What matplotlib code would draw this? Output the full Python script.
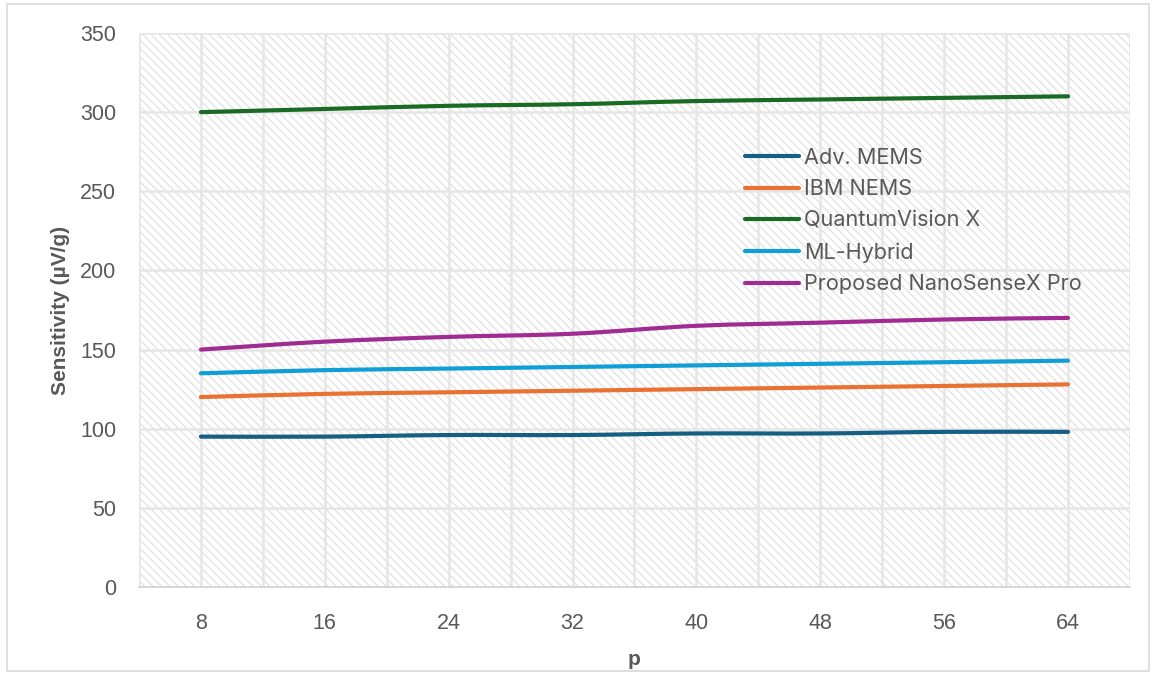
import matplotlib
matplotlib.use("Agg")
import matplotlib.pyplot as plt
from matplotlib.path import Path
from matplotlib.patches import PathPatch, Rectangle
from matplotlib.lines import Line2D
import numpy as np

# sensitivity vs. p for each sensor design
p_values = [8, 16, 24, 32, 40, 48, 56, 64]
adv_mems = [95, 95, 96, 96, 97, 97, 98, 98]
ibm_nems = [120, 122, 123, 124, 125, 126, 127, 128]
quantum_x = [300, 302, 304, 305, 307, 308, 309, 310]
ml_hybrid = [135, 137, 138, 139, 140, 141, 142, 143]
nanosense = [150, 155, 158, 160, 165, 167, 169, 170]

series = [
    ("Adv. MEMS", adv_mems, "#156082"),
    ("IBM NEMS", ibm_nems, "#E97132"),
    ("QuantumVision X", quantum_x, "#196B24"),
    ("ML-Hybrid", ml_hybrid, "#0F9ED5"),
    ("Proposed NanoSenseX Pro", nanosense, "#A02B93"),
]

TXT = "#595959"
GRID = "#e6e6e6"
LW = 3.0


def smooth_path(x, y):
    # catmull-rom style bezier through the points (like a "smoothed line")
    x = np.asarray(x, float)
    y = np.asarray(y, float)
    verts = [(x[0], y[0])]
    codes = [Path.MOVETO]
    n = len(x)
    for i in range(n - 1):
        x0, y0 = (x[i - 1], y[i - 1]) if i > 0 else (x[i], y[i])
        x3, y3 = (x[i + 2], y[i + 2]) if i + 2 < n else (x[i + 1], y[i + 1])
        c1 = (x[i] + (x[i + 1] - x0) / 6, y[i] + (y[i + 1] - y0) / 6)
        c2 = (x[i + 1] - (x3 - x[i]) / 6, y[i + 1] - (y3 - y[i]) / 6)
        verts += [c1, c2, (x[i + 1], y[i + 1])]
        codes += [Path.CURVE4] * 3
    return Path(verts, codes)


fig = plt.figure(figsize=(11.56, 6.75), dpi=100)
ax = fig.add_axes([0.1202, 0.1304, 0.8573, 0.8207])

idx = np.arange(1, len(p_values) + 1)
ax.set_xlim(0.5, len(p_values) + 0.5)
ax.set_ylim(0, 350)

# hatched plot-area fill
plt.rcParams["hatch.linewidth"] = 0.8
ax.add_patch(Rectangle((0, 0), 1, 1, transform=ax.transAxes, facecolor="white",
                       edgecolor="#dedede", hatch="\\\\\\\\", linewidth=0, zorder=0))

# gridlines
for v in np.arange(50, 351, 50):
    ax.axhline(v, color=GRID, lw=1.8, zorder=1)
for xv in np.arange(0.5, len(p_values) + 0.6, 0.5):
    ax.axvline(xv, color=GRID, lw=1.8, zorder=1)

handles = []
for name, vals, col in series:
    ax.add_patch(PathPatch(smooth_path(idx, vals), facecolor="none", edgecolor=col,
                           lw=LW, capstyle="round", joinstyle="round", zorder=3))
    handles.append(Line2D([], [], color=col, lw=LW, solid_capstyle="round", label=name))

for s in ["top", "right", "left"]:
    ax.spines[s].set_visible(False)
ax.spines["bottom"].set_color("#d0d0d0")
ax.spines["bottom"].set_linewidth(1.2)

ax.set_xticks(idx)
ax.set_xticklabels([str(v) for v in p_values])
ax.set_yticks(np.arange(0, 351, 50))
ax.tick_params(length=0, labelsize=15.5, labelcolor=TXT)
ax.tick_params(axis="x", pad=19)
ax.tick_params(axis="y", pad=16.5)
for lab in ax.get_xticklabels() + ax.get_yticklabels():
    lab.set_family("Liberation Sans")

ax.set_xlabel("p", fontsize=15, fontweight="bold", color=TXT, family="Liberation Sans", labelpad=11)
ax.set_ylabel("Sensitivity (µV/g)", fontsize=15, fontweight="bold", color=TXT,
              family="Liberation Sans", labelpad=7)

leg = fig.legend(handles=handles, loc="upper left", bbox_to_anchor=(0.6276, 0.810),
                 frameon=False, handlelength=2.5, handletextpad=0.23, labelspacing=0.53,
                 borderpad=0.4, prop={"family": "Inter", "size": 15.6})
for t in leg.get_texts():
    t.set_color(TXT)

# outer chart border
fig.add_artist(Rectangle((0.006, 0.006), 0.988, 0.988, transform=fig.transFigure,
                         fill=False, edgecolor="#d9d9d9", lw=1.2))

fig.savefig("out.png", dpi=100, facecolor="white")
